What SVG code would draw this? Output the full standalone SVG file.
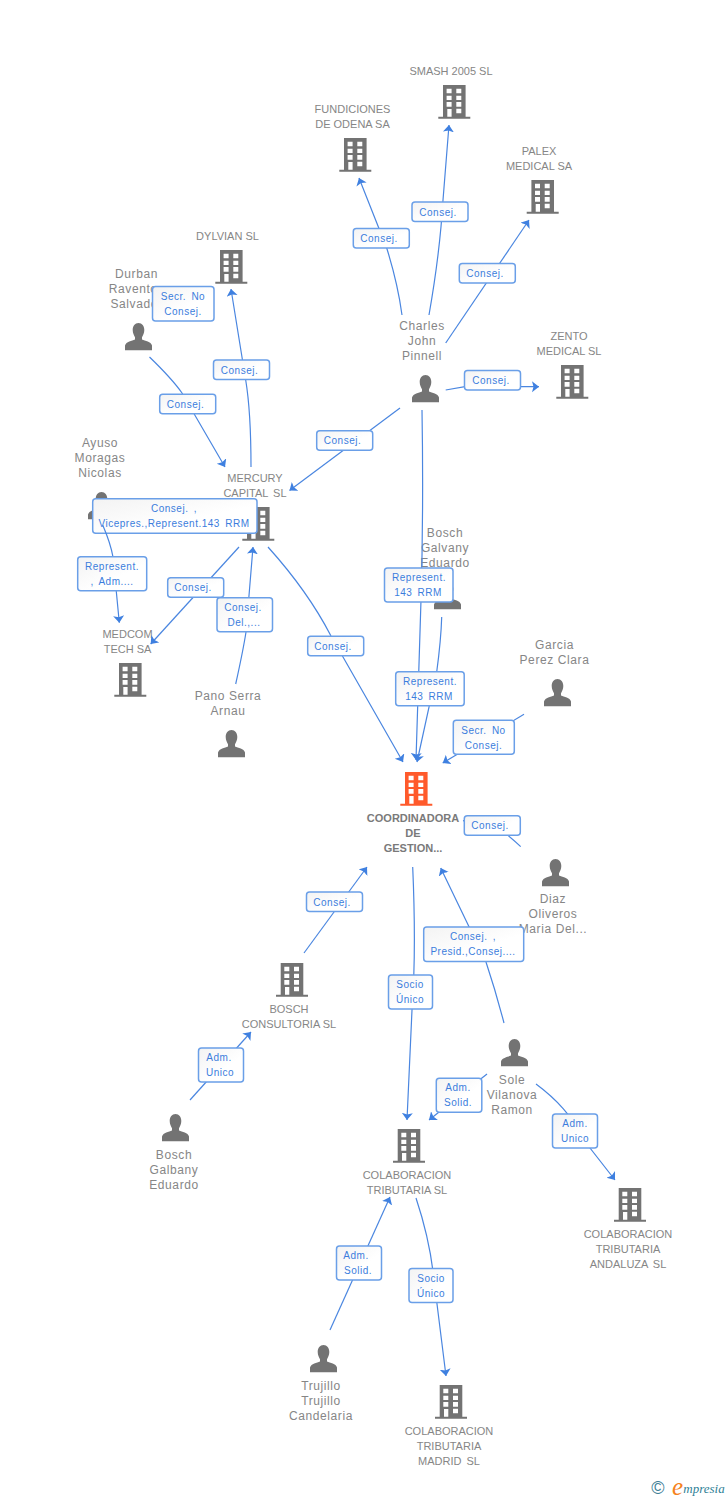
<svg xmlns="http://www.w3.org/2000/svg" width="728" height="1500" viewBox="0 0 728 1500">
<style>
text{font-family:"Liberation Sans",Arial,sans-serif;text-anchor:middle}
.c{font-size:11px;fill:#868686}
.p{font-size:12px;fill:#868686;letter-spacing:.6px}
.m{font-size:11px;font-weight:bold;fill:#7a7a7a}
.e{fill:none;stroke:#4a86e0;stroke-width:1.2}
.a{marker-end:url(#arr)}
.b{fill:url(#bg);stroke:#6a9fe8;stroke-width:1.5}
.l{font-size:10px;fill:#3b7ddd;letter-spacing:.5px;word-spacing:2px}
</style>
<defs>
<linearGradient id="bg" x1="0" y1="0" x2="1" y2="1"><stop offset="0" stop-color="#f3f3f3"/><stop offset=".6" stop-color="#fff"/></linearGradient>
<marker id="arr" markerUnits="userSpaceOnUse" markerWidth="9" markerHeight="12" refX="7" refY="5.5" orient="auto"><path d="M0,0L7,5.500L0,11L1.500,5.500z" fill="#3f80e0"/></marker>
<symbol id="bld" width="32" height="34" viewBox="0 0 32 34" overflow="visible"><path fill-rule="evenodd" d="M4.700,0H27.300V31.700H32V33.700H0V31.700H4.700zM8.300,3.700V8.300H13.300V3.700zM18,3.700V8.300H23V3.700zM8.300,10.700V15H13.300V10.700zM18,10.700V15H23V10.700zM8.300,17V21.700H13.300V17zM18,17V21.700H23V17zM9,24V31.700H13.300V24zM18,23.700V28.300H23V23.700z"/></symbol>
<symbol id="psn" width="27" height="27" viewBox="0 0 27 27" overflow="visible"><path d="M13.500,0C17,0 19.300,3 19.300,7C19.300,10 18,12.500 17,14.200V16.500C20,18 26,18.500 27,22.500V27.300H0V22.500C1,18.500 7,18 10,16.500V14.200C9,12.500 7.700,10 7.700,7C7.700,3 10,0 13.500,0z"/></symbol>
</defs>
<rect width="728" height="1500" fill="#fff"/>
<g id="nodes">
<g id="n-smash"><use href="#bld" x="438.300" y="85" fill="#737373"/><text class="c" x="451" y="75">SMASH 2005 SL</text></g>
<g id="n-fundiciones"><use href="#bld" x="339.300" y="138" fill="#737373"/><text class="c" x="352.500" y="113">FUNDICIONES</text><text class="c" x="352.500" y="128">DE ODENA SA</text></g>
<g id="n-palex"><use href="#bld" x="526.700" y="180" fill="#737373"/><text class="c" x="539" y="155">PALEX</text><text class="c" x="539" y="170">MEDICAL SA</text></g>
<g id="n-zento"><use href="#bld" x="556.300" y="365" fill="#737373"/><text class="c" x="569" y="340">ZENTO</text><text class="c" x="569" y="355">MEDICAL SL</text></g>
<g id="n-dylvian"><use href="#bld" x="215.300" y="250" fill="#737373"/><text class="c" x="227.500" y="240">DYLVIAN SL</text></g>
<g id="n-mercury"><use href="#bld" x="242.300" y="507" fill="#737373"/><text class="c" x="255" y="482">MERCURY</text><text class="c" x="255" y="497" word-spacing="2">CAPITAL SL</text></g>
<g id="n-medcom"><use href="#bld" x="114.300" y="663" fill="#737373"/><text class="c" x="127.500" y="638">MEDCOM</text><text class="c" x="127.500" y="653">TECH SA</text></g>
<g id="n-coord"><use href="#bld" x="400.300" y="772" fill="#ff5a2b"/><text class="m" x="413" y="822">COORDINADORA</text><text class="m" x="413" y="837">DE</text><text class="m" x="413" y="852">GESTION...</text></g>
<g id="n-boschcons"><use href="#bld" x="276" y="963" fill="#737373"/><text class="c" x="289" y="1013">BOSCH</text><text class="c" x="289" y="1028">CONSULTORIA SL</text></g>
<g id="n-colabtrib"><use href="#bld" x="393" y="1129" fill="#737373"/><text class="c" x="407" y="1179">COLABORACION</text><text class="c" x="407" y="1194">TRIBUTARIA SL</text></g>
<g id="n-colaband"><use href="#bld" x="614" y="1188" fill="#737373"/><text class="c" x="628" y="1238">COLABORACION</text><text class="c" x="628" y="1253">TRIBUTARIA</text><text class="c" x="628" y="1268" word-spacing="2">ANDALUZA SL</text></g>
<g id="n-colabmad"><use href="#bld" x="435" y="1385" fill="#737373"/><text class="c" x="449" y="1435">COLABORACION</text><text class="c" x="449" y="1450">TRIBUTARIA</text><text class="c" x="449" y="1465" word-spacing="2">MADRID SL</text></g>
<g id="n-durban"><use href="#psn" x="125" y="323" fill="#737373"/><text class="p" x="136.500" y="278">Durban</text><text class="p" x="136.500" y="293">Raventos</text><text class="p" x="136.500" y="308">Salvador</text></g>
<g id="n-charles"><use href="#psn" x="412" y="375" fill="#737373"/><text class="p" x="422" y="330">Charles</text><text class="p" x="422" y="345">John</text><text class="p" x="422" y="360">Pinnell</text></g>
<g id="n-ayuso"><use href="#psn" x="88" y="492" fill="#737373"/><text class="p" x="100" y="447">Ayuso</text><text class="p" x="100" y="462">Moragas</text><text class="p" x="100" y="477">Nicolas</text></g>
<g id="n-galvany"><use href="#psn" x="434" y="582" fill="#737373"/><text class="p" x="445" y="537">Bosch</text><text class="p" x="445" y="552">Galvany</text><text class="p" x="445" y="567">Eduardo</text></g>
<g id="n-garcia"><use href="#psn" x="544" y="679" fill="#737373"/><text class="p" x="554.500" y="649">Garcia</text><text class="p" x="554.500" y="664">Perez Clara</text></g>
<g id="n-pano"><use href="#psn" x="218" y="730" fill="#737373"/><text class="p" x="228" y="700">Pano Serra</text><text class="p" x="228" y="715">Arnau</text></g>
<g id="n-diaz"><use href="#psn" x="542" y="859" fill="#737373"/><text class="p" x="553" y="903">Diaz</text><text class="p" x="553" y="918">Oliveros</text><text class="p" x="553" y="933">Maria Del...</text></g>
<g id="n-sole"><use href="#psn" x="501" y="1039" fill="#737373"/><text class="p" x="512" y="1084">Sole</text><text class="p" x="512" y="1099">Vilanova</text><text class="p" x="512" y="1114">Ramon</text></g>
<g id="n-galbany"><use href="#psn" x="162" y="1114" fill="#737373"/><text class="p" x="174" y="1159">Bosch</text><text class="p" x="174" y="1174">Galbany</text><text class="p" x="174" y="1189">Eduardo</text></g>
<g id="n-trujillo"><use href="#psn" x="310" y="1345" fill="#737373"/><text class="p" x="321" y="1390">Trujillo</text><text class="p" x="321" y="1405">Trujillo</text><text class="p" x="321" y="1420">Candelaria</text></g>
</g>
<g id="connectors">
<g><path class="e a" d="M402,315C398,285 392,265 386.700,248L359,178"/><rect class="b" x="353.300" y="228.500" width="56" height="19.500" rx="3"/><text class="l" x="379" y="242">Consej.</text></g>
<g><path class="e a" d="M429,315C436,275 441,235 443,200L449,125"/><rect class="b" x="412" y="202" width="56" height="19.500" rx="3"/><text class="l" x="438" y="215.500">Consej.</text></g>
<g><path class="e a" d="M445.700,343L529,220"/><rect class="b" x="459.300" y="263.500" width="56" height="19.500" rx="3"/><text class="l" x="485" y="277">Consej.</text></g>
<g><path class="e a" d="M445.700,390L465,386.700H500L539,386.700"/><rect class="b" x="464.500" y="370.500" width="56" height="19.500" rx="3"/><text class="l" x="491" y="384">Consej.</text></g>
<g><path class="e a" d="M400,408L289.500,490.500"/><rect class="b" x="316.700" y="430.700" width="56" height="19.500" rx="3"/><text class="l" x="342.500" y="444">Consej.</text></g>
<g><path class="e a" d="M251,467C251,430 249,400 245.700,380L231,289"/><rect class="b" x="213.500" y="360" width="56" height="19.500" rx="3"/><text class="l" x="239.500" y="373.500">Consej.</text></g>
<g><path class="e a" d="M149.500,357C165,372 175,383 182,393L225,467"/><rect class="b" x="159.700" y="394.300" width="56" height="19.500" rx="3"/><text class="l" x="185.500" y="408">Consej.</text></g>
<g><rect class="b" x="152.500" y="286.500" width="61.500" height="34.500" rx="3"/><text class="l" x="183" y="300">Secr. No</text><text class="l" x="183" y="315">Consej.</text></g>
<g><rect class="b" x="92.700" y="498.700" width="164.300" height="34.500" rx="3"/><text class="l" x="174" y="512">Consej. ,</text><text class="l" x="174" y="527" word-spacing="1">Vicepres.,Represent.143 RRM</text></g>
<g><path class="e a" d="M102.700,525C107,535 111,546 113,557L119.300,622.700"/><rect class="b" x="77.700" y="556.700" width="69" height="34" rx="3"/><text class="l" x="112" y="570">Represent.</text><text class="l" x="112" y="585">, Adm....</text></g>
<g><path class="e a" d="M239,547L150.700,644"/><rect class="b" x="167.700" y="577.700" width="56" height="19.500" rx="3"/><text class="l" x="193" y="591">Consej.</text></g>
<g><path class="e a" d="M235.700,684C241,660 244,645 246,632L253,547"/><rect class="b" x="217" y="597.700" width="55.500" height="34" rx="3"/><text class="l" x="243" y="611">Consej.</text><text class="l" x="244" y="626">Del.,...</text></g>
<g><path class="e a" d="M268,547C295,577 315,605 331,636L403,762"/><rect class="b" x="307.700" y="636.300" width="56" height="19.500" rx="3"/><text class="l" x="333" y="650">Consej.</text></g>
<g><path class="e a" d="M422,410C423,470 423,530 421,600L416,760"/><rect class="b" x="384.500" y="568" width="68.500" height="34" rx="3"/><text class="l" x="419" y="581">Represent.</text><text class="l" x="418" y="596">143 RRM</text></g>
<g><path class="e a" d="M441.700,617C441,640 439,655 436.700,672L417,762"/><rect class="b" x="395.700" y="671.700" width="68.500" height="34" rx="3"/><text class="l" x="430" y="685">Represent.</text><text class="l" x="429" y="700">143 RRM</text></g>
<g><path class="e a" d="M524,714.300L442.700,763"/><rect class="b" x="453.300" y="720.300" width="61" height="34" rx="3"/><text class="l" x="483.500" y="733.500">Secr. No</text><text class="l" x="483.500" y="748.500">Consej.</text></g>
<g><path class="e a" d="M520.700,846.700C515,841 510,837 505,833L463,820.500"/><rect class="b" x="464.300" y="815.700" width="56" height="19.500" rx="3"/><text class="l" x="490" y="829">Consej.</text></g>
<g><path class="e a" d="M304,953L367,867"/><rect class="b" x="306.500" y="892" width="56" height="19.500" rx="3"/><text class="l" x="332" y="905.500">Consej.</text></g>
<g><path class="e a" d="M412.700,867C415,920 415,970 412,1010L407,1120"/><rect class="b" x="388.500" y="975" width="44" height="34" rx="3"/><text class="l" x="410" y="988">Socio</text><text class="l" x="410" y="1003">Único</text></g>
<g><path class="e a" d="M504,1023C498,1000 492,980 486,962L440.700,868"/><rect class="b" x="423.700" y="927" width="100" height="34.500" rx="3"/><text class="l" x="473" y="940">Consej. ,</text><text class="l" x="473" y="955">Presid.,Consej....</text></g>
<g><path class="e a" d="M487,1074L429,1120"/><rect class="b" x="436.300" y="1078.300" width="45.500" height="34" rx="3"/><text class="l" x="458" y="1091">Adm.</text><text class="l" x="458" y="1106">Solid.</text></g>
<g><path class="e a" d="M536,1084C555,1098 572,1115 590,1148L615,1180"/><rect class="b" x="552.500" y="1114" width="45" height="34" rx="3"/><text class="l" x="575" y="1127">Adm.</text><text class="l" x="575" y="1142">Unico</text></g>
<g><path class="e a" d="M190,1100L251,1032"/><rect class="b" x="198.500" y="1048" width="45" height="34" rx="3"/><text class="l" x="219" y="1061">Adm.</text><text class="l" x="220" y="1076">Unico</text></g>
<g><path class="e a" d="M330,1330L390,1197"/><rect class="b" x="336.500" y="1246" width="45" height="34" rx="3"/><text class="l" x="356" y="1259">Adm.</text><text class="l" x="358" y="1274">Solid.</text></g>
<g><path class="e a" d="M416,1198C425,1225 431,1250 434,1280L446,1376"/><rect class="b" x="409" y="1268.500" width="44" height="34" rx="3"/><text class="l" x="431" y="1282">Socio</text><text class="l" x="431" y="1297">Único</text></g>
</g>
<g id="logo"><text x="658" y="1494" font-size="18" fill="#3f7f96">©</text><text x="677.500" y="1495" font-size="25" font-style="italic" style="font-family:'Liberation Serif',serif" fill="#f58220">e</text><text x="704" y="1493" font-size="13" font-style="italic" style="font-family:'Liberation Serif',serif" fill="#2f7f96">mpresia</text></g>
</svg>
